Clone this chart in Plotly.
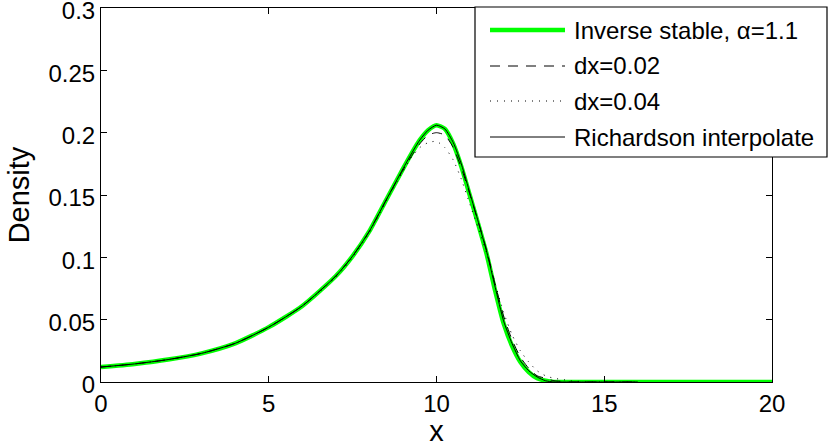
import plotly.graph_objects as go

# ---- data ----
x_grid = [0, 1, 2, 3, 4, 5, 6, 7, 7.5, 8, 8.5, 9, 9.25, 9.5, 9.75, 10, 10.25, 10.5,
          10.75, 11, 11.25, 11.5, 11.75, 12, 12.25, 12.5, 12.75, 13, 13.25, 13.5,
          13.75, 14, 14.5, 15, 16]
x_exact = x_grid + [17, 18, 19, 20]

y_exact = [0.012, 0.0145, 0.018, 0.023, 0.031, 0.044, 0.061, 0.085, 0.101, 0.121, 0.146,
           0.171, 0.183, 0.194, 0.202, 0.206, 0.203, 0.191, 0.172, 0.149, 0.126, 0.102,
           0.073, 0.047, 0.029, 0.016, 0.008, 0.003, 0.001, 0, 0, 0, 0, 0, 0,
           0, 0, 0, 0]

y_dx002 = [0.012, 0.0145, 0.018, 0.023, 0.031, 0.044, 0.061, 0.085, 0.101, 0.121, 0.146,
           0.170, 0.181, 0.191, 0.198, 0.200, 0.198, 0.188, 0.171, 0.150, 0.128, 0.105,
           0.078, 0.053, 0.034, 0.020, 0.011, 0.005, 0.003, 0.001, 0.0005, 0, 0, 0, 0]

y_dx004 = [0.012, 0.0145, 0.018, 0.023, 0.031, 0.044, 0.061, 0.084, 0.100, 0.120, 0.145,
           0.169, 0.180, 0.188, 0.192, 0.193, 0.188, 0.178, 0.162, 0.142, 0.123, 0.103,
           0.079, 0.056, 0.038, 0.025, 0.016, 0.009, 0.005, 0.003, 0.002, 0.001, 0, 0, 0]

y_rich = [0.012, 0.0145, 0.018, 0.023, 0.031, 0.044, 0.061, 0.085, 0.101, 0.121, 0.146,
          0.171, 0.183, 0.194, 0.202, 0.206, 0.203, 0.192, 0.174, 0.151, 0.128, 0.104,
          0.076, 0.049, 0.031, 0.017, 0.009, 0.004, 0.001, 0, 0, 0, 0, 0, 0]

y_ticks = [0, 0.05, 0.1, 0.15, 0.2, 0.25, 0.3]
y_tick_labels = ["0", "0.05", "0.1", "0.15", "0.2", "0.25", "0.3"]
x_ticks = [0, 5, 10, 15, 20]

names = ["Inverse stable, \u03b1=1.1", "dx=0.02", "dx=0.04", "Richardson interpolate"]

FONT = "Liberation Sans, Arial, sans-serif"
FS = 24

fig = go.Figure()
fig.add_trace(go.Scatter(x=x_exact, y=y_exact, mode="lines", name=names[0],
                         line=dict(color="#00ff00", width=4.5, shape="spline", smoothing=0.6)))
fig.add_trace(go.Scatter(x=x_grid, y=y_dx002, mode="lines", name=names[1],
                         line=dict(color="black", width=1, dash="10px,8px", shape="spline", smoothing=0.6)))
fig.add_trace(go.Scatter(x=x_grid, y=y_dx004, mode="lines", name=names[2],
                         line=dict(color="black", width=1, dash="1px,6px", shape="spline", smoothing=0.6)))
fig.add_trace(go.Scatter(x=x_grid, y=y_rich, mode="lines", name=names[3],
                         line=dict(color="black", width=1, shape="spline", smoothing=0.6)))

# ---- manual MATLAB-like legend (paper coordinates) ----
L, R, T, B = 101, 772, 8, 382  # plot area in pixels


def px(xp):
    return (xp - L) / (R - L)


def py(yp):
    return (B - yp) / (B - T)


shapes = [dict(type="rect", xref="paper", yref="paper",
               x0=px(475), x1=px(827), y0=py(157), y1=py(7),
               line=dict(color="black", width=1.2), fillcolor="white", layer="above")]
rows = [30, 66, 101, 137]
styles = [dict(color="#00ff00", width=4.5),
          dict(color="black", width=1, dash="10px,8px"),
          dict(color="black", width=1, dash="1px,6px"),
          dict(color="black", width=1)]
annotations = []
for yy, st, nm in zip(rows, styles, names):
    shapes.append(dict(type="line", xref="paper", yref="paper",
                       x0=px(490), x1=px(565), y0=py(yy), y1=py(yy), line=st, layer="above"))
    annotations.append(dict(xref="paper", yref="paper", x=px(572), y=py(yy),
                            text=nm, showarrow=False, xanchor="left", yanchor="middle",
                            font=dict(family=FONT, size=FS, color="black")))

fig.update_layout(
    width=828, height=447,
    margin=dict(l=L, r=828 - R, t=T, b=447 - B),
    paper_bgcolor="white", plot_bgcolor="white",
    showlegend=False,
    font=dict(family=FONT, size=FS, color="black"),
    shapes=shapes, annotations=annotations,
)
fig.update_xaxes(range=[0, 20], tickvals=x_ticks, ticks="inside", ticklen=6,
                 tickcolor="black", showline=True, linecolor="black", linewidth=1,
                 mirror="ticks", showgrid=False, zeroline=False, automargin=False,
                 ticklabeloverflow="allow",
                 title=dict(text="x", standoff=2), tickfont=dict(size=FS))
fig.update_yaxes(range=[0, 0.3], tickvals=y_ticks, ticktext=y_tick_labels, ticks="inside",
                 ticklen=6, tickcolor="black", showline=True, linecolor="black", linewidth=1,
                 mirror="ticks", showgrid=False, zeroline=False, automargin=False,
                 ticklabeloverflow="allow", ticklabelshift=3,
                 title=dict(text="Density", standoff=10), tickfont=dict(size=FS))

fig.write_html("out.html", config={"displayModeBar": False},
               post_script="document.body.style.margin='0';")
